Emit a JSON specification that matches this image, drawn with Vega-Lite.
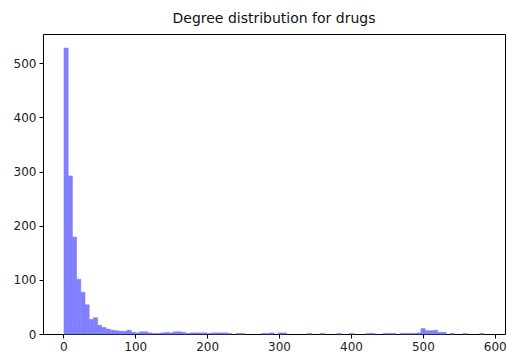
{
  "$schema": "https://vega.github.io/schema/vega-lite/v6.json",
  "width": 462,
  "height": 300,
  "autosize": {"type": "none"},
  "padding": {"left": 43, "top": 34, "right": 1, "bottom": 22},
  "background": "white",
  "title": {"text": "Degree distribution for drugs", "font": "DejaVu Sans", "fontSize": 14, "fontWeight": "normal", "color": "#111", "offset": 8, "anchor": "middle"},
  "config": {
    "view": {"stroke": "#000", "strokeWidth": 1},
    "axis": {"domain": false, "grid": false, "tickColor": "#000", "tickSize": 4, "labelFont": "DejaVu Sans", "labelFontSize": 12, "labelColor": "#222", "labelPadding": 3, "title": null}
  },
  "data": {"values": [
    {"lo": 1, "hi": 6.84, "count": 528},
    {"lo": 6.84, "hi": 12.68, "count": 292},
    {"lo": 12.68, "hi": 18.52, "count": 179},
    {"lo": 18.52, "hi": 24.36, "count": 101},
    {"lo": 24.36, "hi": 30.2, "count": 77},
    {"lo": 30.2, "hi": 36.04, "count": 54},
    {"lo": 36.04, "hi": 41.88, "count": 27},
    {"lo": 41.88, "hi": 47.72, "count": 30},
    {"lo": 47.72, "hi": 53.56, "count": 16},
    {"lo": 53.56, "hi": 59.4, "count": 12},
    {"lo": 59.4, "hi": 65.24, "count": 9},
    {"lo": 65.24, "hi": 71.08, "count": 7},
    {"lo": 71.08, "hi": 76.92, "count": 6},
    {"lo": 76.92, "hi": 82.76, "count": 5},
    {"lo": 82.76, "hi": 88.6, "count": 5},
    {"lo": 88.6, "hi": 94.44, "count": 7},
    {"lo": 94.44, "hi": 100.28, "count": 3},
    {"lo": 100.28, "hi": 106.12, "count": 2},
    {"lo": 106.12, "hi": 111.96, "count": 4},
    {"lo": 111.96, "hi": 117.8, "count": 4},
    {"lo": 117.8, "hi": 123.64, "count": 2},
    {"lo": 123.64, "hi": 129.48, "count": 1},
    {"lo": 129.48, "hi": 135.32, "count": 1},
    {"lo": 135.32, "hi": 141.16, "count": 2},
    {"lo": 141.16, "hi": 147, "count": 3},
    {"lo": 147, "hi": 152.84, "count": 2},
    {"lo": 152.84, "hi": 158.68, "count": 4},
    {"lo": 158.68, "hi": 164.52, "count": 4},
    {"lo": 164.52, "hi": 170.36, "count": 3},
    {"lo": 170.36, "hi": 176.2, "count": 1},
    {"lo": 176.2, "hi": 182.04, "count": 2},
    {"lo": 182.04, "hi": 187.88, "count": 2},
    {"lo": 187.88, "hi": 193.72, "count": 2},
    {"lo": 193.72, "hi": 199.56, "count": 2},
    {"lo": 199.56, "hi": 205.4, "count": 1},
    {"lo": 205.4, "hi": 211.24, "count": 2},
    {"lo": 211.24, "hi": 217.08, "count": 2},
    {"lo": 217.08, "hi": 222.92, "count": 2},
    {"lo": 222.92, "hi": 228.76, "count": 2},
    {"lo": 228.76, "hi": 234.6, "count": 1},
    {"lo": 240.44, "hi": 246.28, "count": 1},
    {"lo": 246.28, "hi": 252.12, "count": 1},
    {"lo": 275.48, "hi": 281.32, "count": 1},
    {"lo": 281.32, "hi": 287.16, "count": 1},
    {"lo": 287.16, "hi": 293, "count": 2},
    {"lo": 298.84, "hi": 304.68, "count": 2},
    {"lo": 304.68, "hi": 310.52, "count": 2},
    {"lo": 339.72, "hi": 345.56, "count": 1},
    {"lo": 357.24, "hi": 363.08, "count": 1},
    {"lo": 380.6, "hi": 386.44, "count": 1},
    {"lo": 398.12, "hi": 403.96, "count": 1},
    {"lo": 421.48, "hi": 427.32, "count": 1},
    {"lo": 427.32, "hi": 433.16, "count": 1},
    {"lo": 444.84, "hi": 450.68, "count": 1},
    {"lo": 450.68, "hi": 456.52, "count": 1},
    {"lo": 456.52, "hi": 462.36, "count": 1},
    {"lo": 468.2, "hi": 474.04, "count": 1},
    {"lo": 474.04, "hi": 479.88, "count": 1},
    {"lo": 479.88, "hi": 485.72, "count": 1},
    {"lo": 485.72, "hi": 491.56, "count": 1},
    {"lo": 491.56, "hi": 497.4, "count": 2},
    {"lo": 497.4, "hi": 503.24, "count": 10},
    {"lo": 503.24, "hi": 509.08, "count": 6},
    {"lo": 509.08, "hi": 514.92, "count": 6},
    {"lo": 514.92, "hi": 520.76, "count": 7},
    {"lo": 520.76, "hi": 526.6, "count": 3},
    {"lo": 526.6, "hi": 532.44, "count": 3},
    {"lo": 538.28, "hi": 544.12, "count": 1},
    {"lo": 555.8, "hi": 561.64, "count": 1},
    {"lo": 579.16, "hi": 585, "count": 1}
  ]},
  "mark": {"type": "bar", "color": "#8080ff", "stroke": "#8080ff", "strokeWidth": 0.6},
  "encoding": {
    "x": {"field": "lo", "type": "quantitative", "scale": {"domain": [-28.2, 614.2], "nice": false, "zero": false}, "axis": {"values": [0, 100, 200, 300, 400, 500, 600]}},
    "x2": {"field": "hi"},
    "y": {"field": "count", "type": "quantitative", "scale": {"domain": [0, 554], "nice": false}, "axis": {"values": [0, 100, 200, 300, 400, 500]}},
    "y2": {"datum": 0}
  }
}
